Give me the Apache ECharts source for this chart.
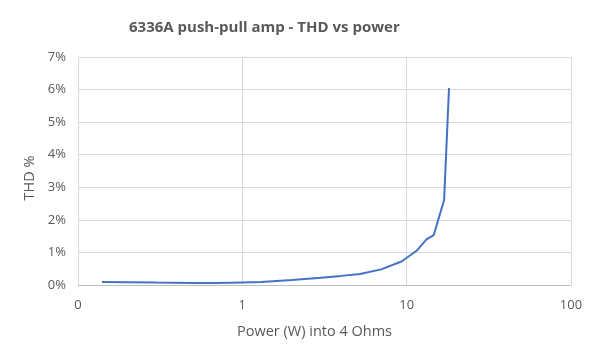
<!DOCTYPE html>
<html>
<head>
<meta charset="utf-8">
<script src="https://cdn.jsdelivr.net/npm/echarts@6/dist/echarts.min.js"></script>
<style>html,body{margin:0;padding:0;background:#fff}#c{width:600px;height:360px}</style>
</head>
<body>
<div id="c"></div>
<script>
var powerW = [0.14, 0.2, 0.3, 0.5, 0.7, 1.0, 1.3, 2.0, 3.0, 4.0, 5.2, 7.0, 9.3, 11.5, 13.2, 14.6, 16.9, 18.1];
var thdPct = [0.09, 0.085, 0.075, 0.065, 0.065, 0.08, 0.09, 0.15, 0.22, 0.28, 0.34, 0.48, 0.72, 1.05, 1.40, 1.53, 2.61, 6.05];
var titleText = '6336A push-pull amp - THD vs power';
var xName = 'Power (W) into 4 Ohms';
var yName = 'THD %';

var pts = powerW.map(function (p, i) { return [p, thdPct[i]]; });
var font = '"Open Sans", "Noto Sans", sans-serif';
var chart = echarts.init(document.getElementById('c'), null, {renderer: 'canvas'});
chart.setOption({
  animation: false,
  title: {
    text: titleText, left: 124, top: 15,
    textStyle: {fontFamily: font, fontSize: 15, fontWeight: 'bold', color: '#595959'}
  },
  grid: {left: 78, right: 29, top: 57, bottom: 75},
  xAxis: {
    type: 'log', logBase: 10, min: 0.1, max: 100,
    name: xName, nameLocation: 'middle', nameGap: 39,
    nameTextStyle: {fontFamily: font, fontSize: 14.5, color: '#595959', padding: [0, 20, 0, 0]},
    axisLine: {show: true, lineStyle: {color: '#bfbfbf'}},
    axisTick: {show: false},
    axisLabel: {fontFamily: font, fontSize: 13, color: '#595959', margin: 14,
      formatter: function (v) { return v < 1 ? '0' : String(Math.round(v)); }},
    splitLine: {show: true, lineStyle: {color: '#d9d9d9'}},
    minorTick: {show: false}
  },
  yAxis: {
    type: 'value', min: 0, max: 7, interval: 1,
    name: yName, nameLocation: 'middle', nameGap: 35, nameRotate: 90,
    nameTextStyle: {fontFamily: font, fontSize: 14.5, color: '#595959', padding: [0, 14, 0, 0]},
    axisLine: {show: true, lineStyle: {color: '#d9d9d9'}},
    axisTick: {show: false},
    axisLabel: {fontFamily: font, fontSize: 13, color: '#595959', margin: 12, formatter: '{value}%'},
    splitLine: {show: true, lineStyle: {color: '#d9d9d9'}}
  },
  series: [{
    type: 'line', data: pts, showSymbol: false, symbol: 'none',
    lineStyle: {color: '#4472c4', width: 2}, smooth: false
  }]
});
</script>
</body>
</html>
